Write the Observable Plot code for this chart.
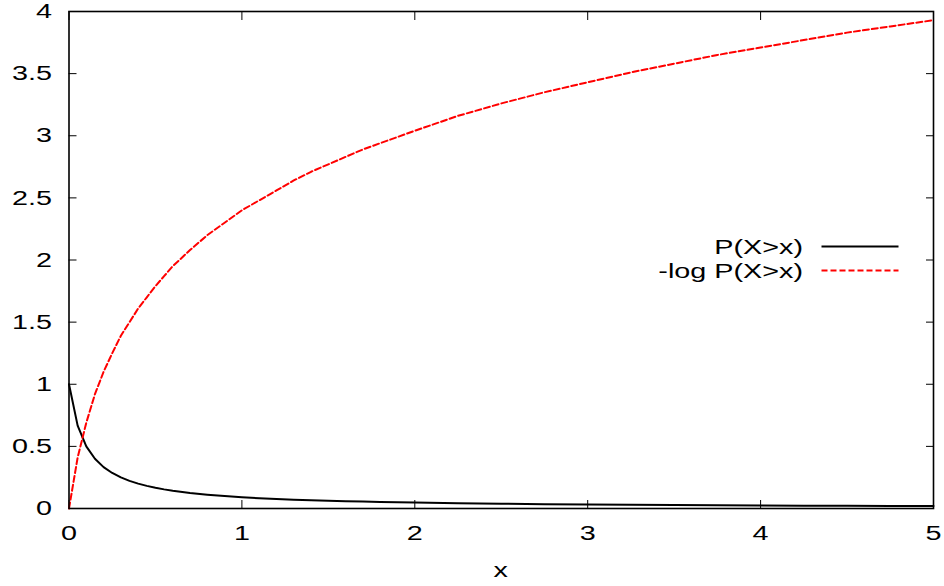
<!DOCTYPE html>
<html>
<head>
<meta charset="utf-8">
<script src="https://cdn.jsdelivr.net/npm/d3@7"></script>
<script src="https://cdn.jsdelivr.net/npm/@observablehq/plot@0.6"></script>
<style>
  html, body { margin: 0; padding: 0; background: #fff; }
  #chart { position: relative; width: 944px; height: 586px; }
</style>
</head>
<body>
<div id="chart"></div>
<script>
// values
const xValues = [0, 0.05, 0.1, 0.15, 0.2, 0.25, 0.3, 0.35, 0.4, 0.45, 0.5, 0.55, 0.6, 0.7, 0.8, 0.9, 1.0,
  1.1, 1.2, 1.3, 1.4, 1.5, 1.6, 1.7, 1.8, 1.9, 2.0, 2.25, 2.5, 2.75, 3.0, 3.25, 3.5, 3.75, 4.0, 4.25, 4.5, 4.75, 5.0];
const survival = [1.0, 0.667, 0.5, 0.4, 0.333, 0.286, 0.25, 0.222, 0.2, 0.182, 0.167, 0.154, 0.143, 0.125, 0.111, 0.1, 0.091,
  0.083, 0.077, 0.071, 0.067, 0.0625, 0.059, 0.056, 0.053, 0.05, 0.048, 0.043, 0.038, 0.035, 0.032, 0.030, 0.028, 0.026, 0.024, 0.023, 0.022, 0.021, 0.020];
const negLog = [0, 0.41, 0.69, 0.92, 1.10, 1.25, 1.39, 1.50, 1.61, 1.70, 1.79, 1.87, 1.95, 2.08, 2.20, 2.30, 2.40,
  2.48, 2.56, 2.64, 2.71, 2.77, 2.83, 2.89, 2.94, 2.99, 3.04, 3.16, 3.26, 3.35, 3.43, 3.51, 3.58, 3.65, 3.71, 3.77, 3.83, 3.88, 3.93];
const xTicks = [0, 1, 2, 3, 4, 5];
const yTicks = [0, 0.5, 1, 1.5, 2, 2.5, 3, 3.5, 4];
const seriesNames = ["P(X>x)", "-log P(X>x)"];
const seriesColors = ["#000000", "#ff0000"];

const rows1 = xValues.map((x, i) => ({x, y: survival[i]}));
const rows2 = xValues.map((x, i) => ({x, y: negLog[i]}));

const FONT = "'Liberation Sans', Arial, sans-serif";
const FS = 21;
const STRETCH = 1.37;
const fmt = d => String(d);

const plot = Plot.plot({
  width: 944,
  height: 586,
  marginLeft: 68.5,
  marginRight: 11,
  marginTop: 11,
  marginBottom: 78,
  style: {fontFamily: FONT, fontSize: FS + "px", color: "#000", background: "#fff"},
  x: {domain: [0, 5]},
  y: {domain: [0, 4]},
  marks: [
    Plot.axisX(xTicks, {anchor: "bottom", tickSize: -8, tickPadding: 25, tickFormat: fmt, label: null, strokeWidth: 1}),
    Plot.axisX(xTicks, {anchor: "top", tickSize: -8, tickFormat: () => "", label: null, strokeWidth: 1}),
    Plot.axisY(yTicks, {anchor: "left", tickSize: -8, tickPadding: 25, tickFormat: fmt, label: null, strokeWidth: 1}),
    Plot.axisY(yTicks, {anchor: "right", tickSize: -8, tickFormat: () => "", label: null, strokeWidth: 1}),
    Plot.line(rows1, {x: "x", y: "y", stroke: seriesColors[0], strokeWidth: 2}),
    Plot.line(rows2, {x: "x", y: "y", stroke: seriesColors[1], strokeWidth: 2, strokeDasharray: "6,3"}),
    Plot.frame({stroke: "#000", strokeWidth: 1.6})
  ]
});

document.getElementById("chart").appendChild(plot);
const svg = d3.select(plot);
const xs = plot.scale("x");

// x axis title
svg.append("text")
  .attr("x", xs.apply(2.5))
  .attr("y", 577)
  .attr("text-anchor", "middle")
  .style("font-family", FONT).style("font-size", FS + "px")
  .text("x");

// legend (gnuplot style, inside plot area)
const legend = svg.append("g");
const legYs = [246.5, 270.5];
seriesNames.forEach((name, i) => {
  legend.append("text")
    .attr("x", 803)
    .attr("y", legYs[i])
    .attr("dy", "0.36em")
    .attr("text-anchor", "end")
    .style("font-family", FONT).style("font-size", FS + "px")
    .attr("fill", "#000")
    .text(name);
  legend.append("line")
    .attr("x1", 821.5).attr("x2", 898.5)
    .attr("y1", legYs[i]).attr("y2", legYs[i])
    .attr("stroke", seriesColors[i])
    .attr("stroke-width", 2)
    .attr("stroke-dasharray", i === 1 ? "6,3" : null);
});

// horizontal stretch of all text to mimic the reference's wide glyphs
svg.selectAll("text").each(function() {
  if (!this.textContent) return;
  const b = this.getBBox();
  const anchor = getComputedStyle(this).textAnchor;
  let ax = b.x + b.width / 2;
  if (anchor === "end") ax = b.x + b.width;
  else if (anchor === "start") ax = b.x;
  const prev = this.getAttribute("transform") || "";
  this.setAttribute("transform", `${prev} translate(${ax},0) scale(${STRETCH},1) translate(${-ax},0)`);
});
</script>
</body>
</html>
